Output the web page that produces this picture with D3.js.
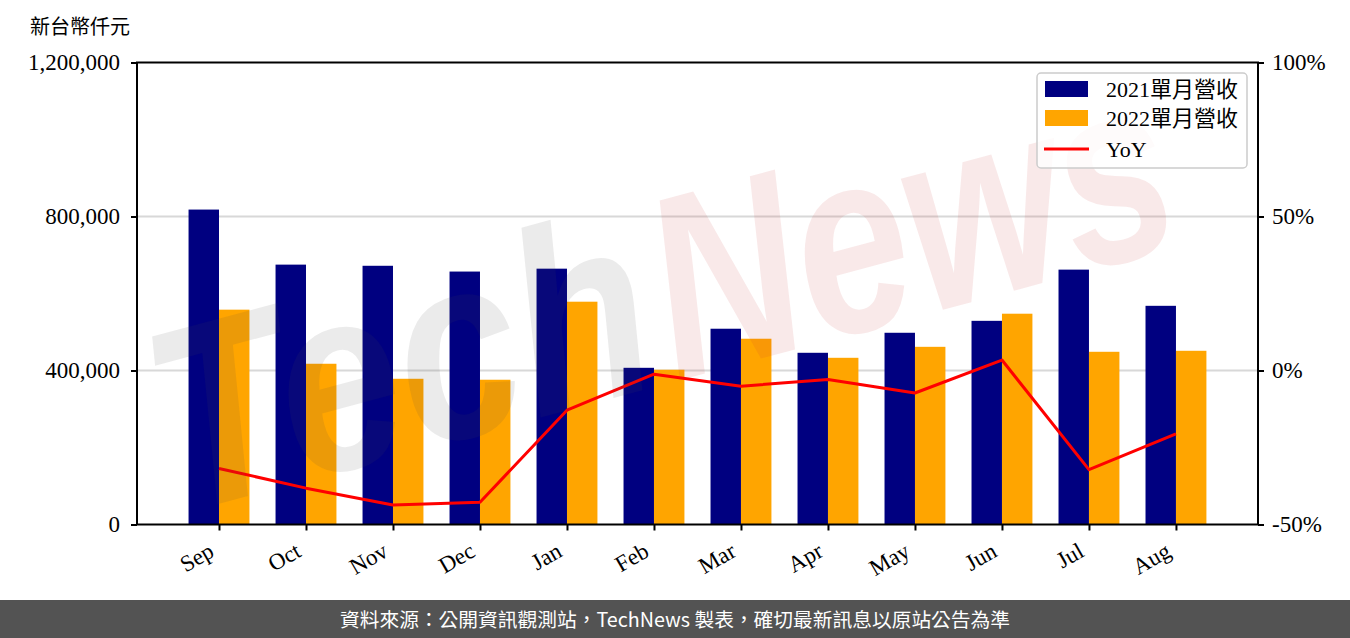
<!DOCTYPE html>
<html>
<head>
<meta charset="utf-8">
<script src="https://cdn.jsdelivr.net/npm/d3@7"></script>
<style>
  html, body { margin: 0; padding: 0; background: #fff; }
  svg { display: block; }
</style>
</head>
<body>
<svg id="chart" width="1350" height="638"></svg>
<script>
const categories = ["Sep", "Oct", "Nov", "Dec", "Jan", "Feb", "Mar", "Apr", "May", "Jun", "Jul", "Aug"];
const rev2021 = [818000, 675000, 672000, 657000, 664500, 407000, 508500, 446000, 498000, 529000, 662000, 568000];
const rev2022 = [558000, 417500, 378500, 376000, 578700, 402000, 482500, 433000, 461500, 547500, 448600, 451200];
const yoy = [-31.8, -38.2, -43.7, -42.8, -12.9, -1.2, -5.1, -2.9, -7.3, 3.4, -32.2, -20.6];
const leftTicks = [0, 400000, 800000, 1200000];
const rightTicks = [-50, 0, 50, 100];
const seriesNames = ["2021單月營收", "2022單月營收", "YoY"];
const colors = { y2021: "#000080", y2022: "#FFA500", yoy: "#FF0000" };

(function () {
const svg = d3.select("#chart");
const serif = "'Liberation Serif', 'DejaVu Serif', 'Noto Sans CJK TC', serif";
const cjk = "'Noto Sans CJK TC', 'Noto Sans CJK SC', sans-serif";

const pL = 137, pR = 1258, pT = 62.5, pB = 524.5;
const x = d3.scaleLinear().domain([-0.9425, 11.943]).range([pL, pR]);
const yL = d3.scaleLinear().domain([0, 1200000]).range([pB, pT]);
const yR = d3.scaleLinear().domain([-50, 100]).range([pB, pT]);
const bw = 0.35;

// gridlines
svg.append("g").selectAll("line").data([400000, 800000]).join("line")
  .attr("x1", pL).attr("x2", pR)
  .attr("y1", d => yL(d)).attr("y2", d => yL(d))
  .attr("stroke", "#d8d8d8").attr("stroke-width", 2);

// bars
svg.append("g").selectAll("rect").data(rev2021).join("rect")
  .attr("x", (d, i) => x(i - bw)).attr("width", x(bw) - x(0))
  .attr("y", d => yL(d)).attr("height", d => yL(0) - yL(d))
  .attr("fill", colors.y2021);
svg.append("g").selectAll("rect").data(rev2022).join("rect")
  .attr("x", (d, i) => x(i)).attr("width", x(bw) - x(0))
  .attr("y", d => yL(d)).attr("height", d => yL(0) - yL(d))
  .attr("fill", colors.y2022);

// yoy line
svg.append("path").datum(yoy)
  .attr("d", d3.line().x((d, i) => x(i)).y(d => yR(d)))
  .attr("fill", "none").attr("stroke", colors.yoy).attr("stroke-width", 3)
  .attr("stroke-linejoin", "round");

// watermark
const wm = svg.append("g").attr("transform", "translate(175,500) rotate(-15)")
  .style("font-family", "'Liberation Sans', 'DejaVu Sans', sans-serif")
  .style("font-style", "italic").style("font-weight", "bold").style("font-size", "260px");
wm.append("text").attr("x", 0).attr("y", 15).attr("textLength", 505).attr("lengthAdjust", "spacingAndGlyphs")
  .attr("fill", "rgb(75,75,75)").attr("fill-opacity", 0.11).text("Tech");
wm.append("text").attr("x", 515).attr("y", 15).attr("textLength", 530).attr("lengthAdjust", "spacingAndGlyphs")
  .attr("fill", "rgb(200,55,55)").attr("fill-opacity", 0.11).text("News");

// axes
const axisL = d3.axisLeft(yL).tickValues(leftTicks).tickFormat(d3.format(",")).tickSize(6).tickPadding(11);
const axisR = d3.axisRight(yR).tickValues(rightTicks).tickFormat(d => d + "%").tickSize(6).tickPadding(8);
const axisB = d3.axisBottom(x).tickValues(d3.range(categories.length)).tickFormat(i => categories[i]).tickSize(6).tickPadding(0);

const gL = svg.append("g").attr("transform", `translate(${pL},0)`).call(axisL);
const gR = svg.append("g").attr("transform", `translate(${pR},0)`).call(axisR);
const gB = svg.append("g").attr("transform", `translate(0,${pB})`).call(axisB);
[gL, gR, gB].forEach(g => {
  g.select(".domain").remove();
  g.selectAll(".tick line").attr("stroke", "#000").attr("stroke-width", 2);
  g.selectAll(".tick text").attr("fill", "#000").style("font-family", serif).style("font-size", "23px");
});
gB.selectAll(".tick text")
  .attr("text-anchor", "end")
  .attr("x", 0).attr("y", 0)
  .attr("transform", "translate(-12,17) rotate(-30)")
  .attr("dy", "0.7em");

// frame
svg.append("rect").attr("x", pL).attr("y", pT).attr("width", pR - pL).attr("height", pB - pT)
  .attr("fill", "none").attr("stroke", "#000").attr("stroke-width", 2);

// unit label
svg.append("text").attr("x", 30).attr("y", 34).text("新台幣仟元")
  .style("font-family", cjk).style("font-size", "20px").attr("fill", "#000");

// legend
const lg = svg.append("g");
lg.append("rect").attr("x", 1037).attr("y", 73).attr("width", 210).attr("height", 95).attr("rx", 4)
  .attr("fill", "#fff").attr("fill-opacity", 0.8).attr("stroke", "#cccccc").attr("stroke-width", 1.5);
const items = [
  { name: seriesNames[0], type: "rect", color: colors.y2021, y: 89 },
  { name: seriesNames[1], type: "rect", color: colors.y2022, y: 118 },
  { name: seriesNames[2], type: "line", color: colors.yoy, y: 149 }
];
items.forEach(it => {
  if (it.type === "rect") {
    lg.append("rect").attr("x", 1045).attr("y", it.y - 8).attr("width", 43).attr("height", 16).attr("fill", it.color);
  } else {
    lg.append("line").attr("x1", 1044).attr("x2", 1089).attr("y1", it.y).attr("y2", it.y)
      .attr("stroke", it.color).attr("stroke-width", 3);
  }
  lg.append("text").attr("x", 1106).attr("y", it.y).attr("dy", "0.35em").text(it.name)
    .style("font-family", serif).style("font-size", "22px").attr("fill", "#000");
});

// footer
svg.append("rect").attr("x", 0).attr("y", 600).attr("width", 1350).attr("height", 38).attr("fill", "#535353");
svg.append("text").attr("x", 675).attr("y", 620).attr("dy", "0.35em").attr("text-anchor", "middle")
  .attr("textLength", 670).attr("lengthAdjust", "spacingAndGlyphs")
  .text("資料來源：公開資訊觀測站，TechNews 製表，確切最新訊息以原站公告為準")
  .style("font-family", cjk).style("font-size", "19.5px").attr("fill", "#fff");
})();
</script>
</body>
</html>
